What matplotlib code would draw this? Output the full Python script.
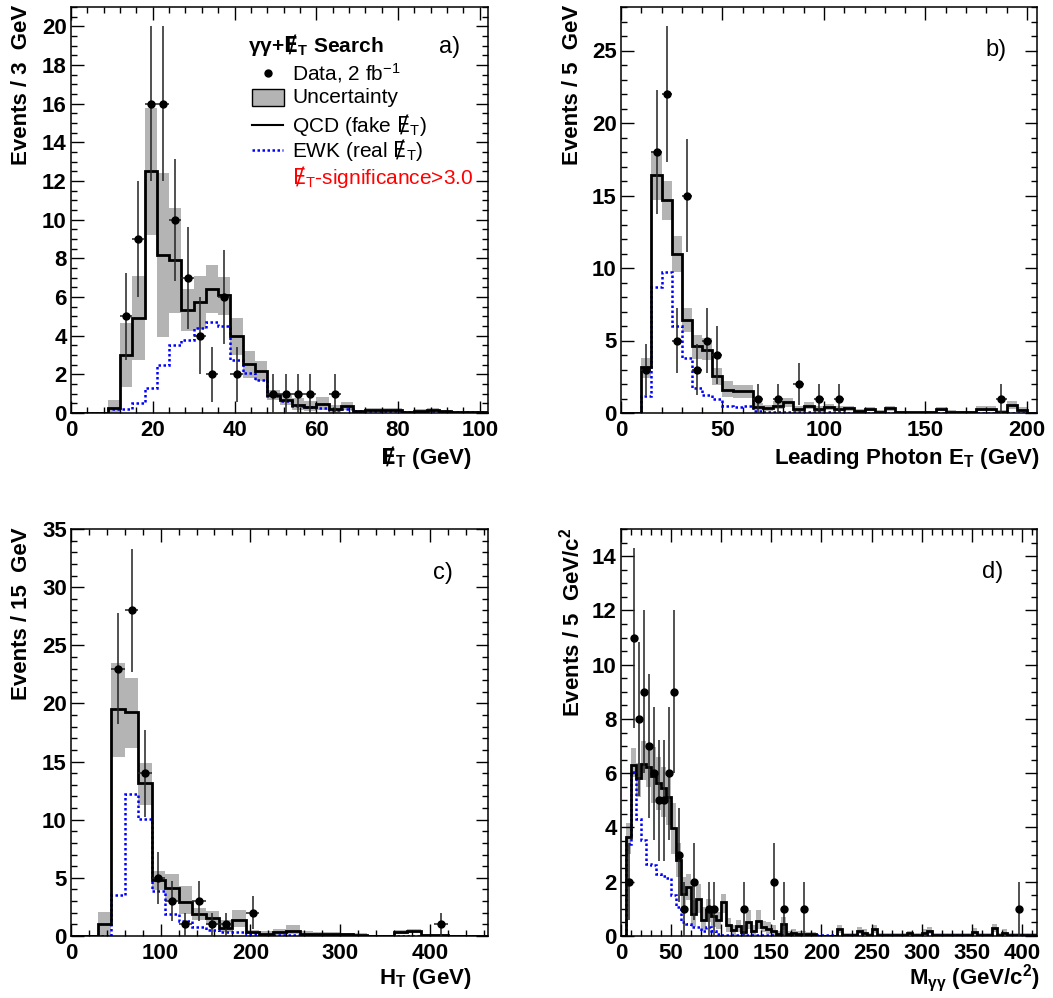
import numpy as np
import matplotlib
matplotlib.use("Agg")
import matplotlib.pyplot as plt
from matplotlib.patches import Rectangle
from matplotlib.ticker import MultipleLocator

plt.rcParams["font.family"] = ["Liberation Sans", "DejaVu Sans"]
plt.rcParams["mathtext.fontset"] = "custom"
plt.rcParams["mathtext.rm"] = "Liberation Sans"
plt.rcParams["mathtext.it"] = "Liberation Sans:italic"
plt.rcParams["mathtext.bf"] = "Liberation Sans:bold"
# DejaVu carries the slashed E glyph (U+0246)
plt.rcParams["mathtext.sf"] = "DejaVu Sans:bold"
plt.rcParams["mathtext.tt"] = "DejaVu Sans"
plt.rcParams["axes.linewidth"] = 1.1

# ── Data ──────────────────────────────────────────────────────────────────────

# a) missing ET, 3 GeV bins, 0-102
a_edges = np.arange(0, 103, 3)
a_qcd = [0, 0, 0, 0.25, 3.0, 4.9, 12.5, 8.15, 7.9, 5.35, 5.75, 6.42, 6.08, 3.97,
         2.52, 2.19, 0.92, 0.69, 0.43, 0.31, 0.48, 0.2, 0.38, 0.09, 0.14, 0.17,
         0.14, 0.05, 0.1, 0.14, 0.09, 0.05, 0.05, 0.05]
a_lo = [0, 0, 0, 0, 1.33, 2.73, 9.2, 3.92, 5.18, 4.23, 4.32, 5.15, 5.06, 3.02,
        1.81, 1.64, 0.66, 0.43, 0.17, 0.09, 0.17, 0.0, 0.14, 0.01, 0.04, 0.06,
        0.04, 0.0, 0.02, 0.04, 0.01, 0.0, 0.0, 0.0]
a_hi = [0, 0, 0, 0.65, 4.66, 7.08, 15.79, 12.4, 10.59, 6.42, 7.08, 7.67, 7.03, 4.89,
        3.23, 2.71, 1.21, 0.95, 0.78, 0.6, 0.81, 0.43, 0.59, 0.18, 0.25, 0.28,
        0.25, 0.12, 0.2, 0.25, 0.18, 0.12, 0.12, 0.12]
a_ewk = [0, 0, 0, 0.2, 0.2, 0.52, 1.3, 2.5, 3.54, 3.77, 4.4, 4.7, 4.49, 2.76,
         2.07, 1.73, 0.86, 0.62, 0.35, 0.31, 0.26, 0.17, 0.2, 0.08, 0.1, 0.12,
         0.1, 0.05, 0.06, 0.1, 0.06, 0.04, 0.03, 0.03]
a_data_x = [13.5, 16.5, 19.5, 22.5, 25.5, 28.5, 31.5, 34.5, 37.5, 40.5,
            49.5, 52.5, 55.5, 58.5, 64.5]
a_data_n = [5, 9, 16, 16, 10, 7, 4, 2, 6, 2, 1, 1, 1, 1, 1]

# b) leading photon ET, 5 GeV bins, 0-205
b_edges = np.arange(0, 206, 5)
b_qcd = [0, 0, 3.2, 16.38, 14.7, 10.96, 6.43, 4.6, 4.37, 2.53, 1.6, 1.54, 1.54,
         0.41, 0.34, 0.5, 0.74, 0.28, 0.5, 0.28, 0.41, 0.3, 0.32, 0.14, 0.28,
         0.1, 0.32, 0.08, 0.05, 0.05, 0.08, 0.28, 0.1, 0.06, 0.06, 0.3, 0.3,
         0.1, 0.57, 0.23, 0]
b_lo = [0, 0, 2.41, 14.7, 13.33, 9.7, 5.56, 3.72, 3.63, 1.95, 1.1, 1.03, 1.03,
        0.18, 0.14, 0.28, 0.41, 0.1, 0.28, 0.1, 0.18, 0.12, 0.14, 0.04, 0.12,
        0.02, 0.14, 0.02, 0, 0, 0.02, 0.12, 0.02, 0, 0, 0.12, 0.12,
        0.02, 0.28, 0.08, 0]
b_hi = [0, 0, 3.79, 18.04, 15.97, 12.18, 7.24, 5.4, 5.17, 3.1, 2.18, 1.95, 1.95,
        0.69, 0.57, 0.8, 1.03, 0.5, 0.74, 0.5, 0.64, 0.5, 0.5, 0.26, 0.44,
        0.2, 0.5, 0.16, 0.1, 0.1, 0.16, 0.44, 0.2, 0.12, 0.12, 0.48, 0.48,
        0.2, 0.8, 0.4, 0]
b_ewk = [0, 0, 1.19, 8.69, 9.7, 6.02, 3.79, 1.72, 1.26, 0.99, 0.5, 0.41, 0.46,
         0.14, 0.1, 0.08, 0.08, 0.06, 0.05, 0.05, 0.04, 0.04, 0.03, 0.03, 0.03,
         0.02, 0.02, 0.02, 0.02, 0.02, 0.02, 0.02, 0.02, 0.02, 0.02, 0.02, 0.02,
         0.02, 0.02, 0.02, 0]
b_data_x = [12.5, 17.5, 22.5, 27.5, 32.5, 37.5, 42.5, 47.5, 67.5, 77.5, 87.5,
            97.5, 107.5, 187.5]
b_data_n = [3, 18, 22, 5, 15, 3, 5, 4, 1, 1, 2, 1, 1, 1]

# c) HT, 15 GeV bins, 0-465
c_edges = np.arange(0, 466, 15)
c_qcd = [0, 0, 1.0, 19.52, 19.24, 13.12, 4.85, 4.13, 2.93, 1.92, 1.58, 0.72,
         1.41, 0.34, 0.2, 0.34, 0.43, 0.2, 0.14, 0.14, 0.14, 0.09, 0.03, 0.03,
         0.32, 0.43, 0.06, 0.06, 0.03, 0.03, 0.03]
c_lo = [0, 0, 0, 15.42, 16.19, 11.25, 3.93, 3.13, 1.92, 1.35, 0.92, 0.34,
        0.78, 0.14, 0.03, 0.06, 0.2, 0.03, 0.03, 0.03, 0, 0, 0, 0,
        0.14, 0.25, 0, 0, 0, 0, 0]
c_hi = [0, 0, 2.07, 23.51, 22.16, 14.84, 5.57, 5.37, 4.28, 2.41, 2.12, 1.35,
        2.21, 0.55, 0.4, 0.63, 0.92, 0.4, 0.35, 0.35, 0.3, 0.25, 0.1, 0.1,
        0.5, 0.6, 0.15, 0.15, 0.1, 0.1, 0.1]
c_ewk = [0, 0, 0, 3.5, 12.17, 10.02, 3.85, 1.92, 1.26, 0.78, 0.55, 0.34, 0.34,
         0.15, 0.1, 0.08, 0.05, 0.04, 0.03, 0.03, 0.03, 0.02, 0.02, 0.02, 0.02,
         0.02, 0.02, 0.02, 0.02, 0.02, 0.02]
c_data_x = [52.5, 67.5, 82.5, 97.5, 112.5, 127.5, 142.5, 157.5, 172.5, 202.5, 412.5]
c_data_n = [23, 28, 14, 5, 3, 1, 3, 1, 1, 2, 1]

# d) diphoton mass, 5 GeV bins, 0-415
d_edges = np.arange(0, 416, 5)
d_qcd = [0, 3.66, 6.3, 5.81, 6.34, 6.22, 5.91, 5.65, 5.44, 5.11, 3.97, 2.8, 1.56,
         1.81, 0.8, 1.38, 0.6, 0.95, 0.73, 0.58, 1.26, 0.39, 0.21, 0.36, 0.15,
         0.52, 0.18, 0.55, 0.33, 0.25, 0.18, 0.06, 0.46, 0.09, 0.11, 0.09, 0.09,
         0.06, 0.06, 0, 0, 0, 0, 0.27, 0.05, 0.05, 0.05, 0.2, 0.12, 0.03, 0.27,
         0.03, 0.03, 0.03, 0.03, 0.03, 0.03, 0.1, 0.03, 0.03, 0.12, 0.2, 0.03,
         0.03, 0.03, 0.03, 0.03, 0.03, 0.03, 0.03, 0.15, 0.03, 0.03, 0.03, 0.3,
         0.03, 0.12, 0.03, 0.03, 0.03, 0.03, 0.03, 0.03]
d_lo = [0, 3.04, 5.87, 5.14, 5.75, 5.5, 4.89, 4.64, 4.4, 4.09, 3.04, 2.18, 1.07,
        1.32, 0.33, 0.83, 0.21, 0.52, 0.35, 0.25, 0.83, 0.15, 0.03, 0.15, 0.03,
        0.27, 0.03, 0.27, 0.15, 0.08, 0.03, 0, 0.21, 0, 0, 0, 0,
        0, 0, 0, 0, 0, 0, 0.12, 0, 0, 0, 0.08, 0.03, 0, 0.12,
        0, 0, 0, 0, 0, 0, 0.02, 0, 0, 0.03, 0.08, 0,
        0, 0, 0, 0, 0, 0, 0, 0.05, 0, 0, 0, 0.15,
        0, 0.03, 0, 0, 0, 0, 0, 0]
d_hi = [0, 4.15, 6.92, 6.37, 7.17, 7.1, 6.98, 6.61, 6.24, 5.87, 4.89, 3.41, 2.18,
        2.3, 1.32, 1.93, 1.07, 1.38, 1.1, 0.9, 1.56, 0.65, 0.4, 0.6, 0.4,
        0.95, 0.4, 0.95, 0.55, 0.5, 0.4, 0.2, 0.7, 0.2, 0.25, 0.2, 0.2,
        0.15, 0.15, 0.05, 0.05, 0.05, 0.05, 0.42, 0.12, 0.12, 0.12, 0.35, 0.25,
        0.1, 0.42, 0.1, 0.1, 0.1, 0.1, 0.1, 0.1, 0.2, 0.1, 0.1, 0.25, 0.35, 0.1,
        0.1, 0.1, 0.1, 0.1, 0.1, 0.1, 0.1, 0.28, 0.1, 0.1, 0.1, 0.45,
        0.1, 0.25, 0.1, 0.1, 0.1, 0.1, 0.1, 0.1]
d_ewk = [0, 3.4, 6.06, 4.3, 3.53, 2.65, 2.6, 2.3, 2.2, 2.15, 1.5, 1.07, 0.52,
         0.46, 0.33, 0.33, 0.18, 0.33, 0.18, 0.09, 0.05, 0.04, 0.04, 0.03, 0.03,
         0.03, 0.03, 0.03, 0.03, 0.03, 0.05, 0.02, 0.02, 0.02, 0.02, 0.02, 0.02,
         0.02, 0.02, 0.02, 0.02, 0.02, 0.02, 0.02, 0.02, 0.02, 0.02, 0.02, 0.02,
         0.02, 0.02, 0.02, 0.02, 0.02, 0.02, 0.02, 0.02, 0.02, 0.02, 0.02, 0.02,
         0.02, 0.02, 0.02, 0.02, 0.02, 0.02, 0.02, 0.02, 0.02, 0.02, 0.02, 0.02,
         0.02, 0.02, 0.02, 0.02, 0.02, 0.02, 0.02, 0.02, 0.02, 0.02]
d_data_x = [7.5, 12.5, 17.5, 22.5, 27.5, 32.5, 37.5, 42.5, 47.5, 52.5, 57.5, 62.5,
            72.5, 87.5, 92.5, 122.5, 152.5, 162.5, 182.5, 397.5]
d_data_n = [2, 11, 8, 9, 7, 6, 5, 5, 6, 9, 3, 1, 2, 1, 1, 1, 2, 1, 1, 1]

# ── Style ─────────────────────────────────────────────────────────────────────

W, H = 1053, 998
BAND = "#b4b4b4"
MET_B = r"\mathsf{Ɇ}_{\mathbf{T}}"
MET_R = r"\mathtt{Ɇ}_{\mathrm{T}}"


def draw_panel(ax, edges, qcd, lo, hi, ewk, dx, dn, xlim, ylim, xmaj, xmin, ymaj, ymin, tag):
    ax.stairs(hi, edges, baseline=lo, fill=True, color=BAND, lw=0, zorder=1)
    ax.stairs(ewk, edges, color="#0000ff", lw=1.8, ls=(0, (1, 1)), zorder=2)
    ax.stairs(qcd, edges, color="k", lw=2.0, zorder=3)
    half = (edges[1] - edges[0]) / 2
    n = np.array(dn, dtype=float)
    ax.errorbar(dx, n, yerr=np.sqrt(n), xerr=half, fmt="o", color="k", ms=5,
                elinewidth=1.1, ecolor="#222222", capsize=0, zorder=4)
    ax.set_xlim(*xlim)
    ax.set_ylim(*ylim)
    ax.xaxis.set_major_locator(MultipleLocator(xmaj))
    ax.xaxis.set_minor_locator(MultipleLocator(xmin))
    ax.yaxis.set_major_locator(MultipleLocator(ymaj))
    ax.yaxis.set_minor_locator(MultipleLocator(ymin))
    ax.tick_params(which="both", direction="in", top=True, right=True, width=1.0)
    ax.tick_params(which="major", length=9)
    ax.tick_params(which="minor", length=4.5)
    ax.tick_params(axis="x", pad=5)
    ax.tick_params(axis="y", pad=3)
    for lab in ax.get_xticklabels() + ax.get_yticklabels():
        lab.set_fontweight("bold")
        lab.set_fontsize(16)
    ax.text(tag[1], tag[2], tag[0], transform=ax.transAxes, fontsize=17,
            ha="right", va="center")


fig = plt.figure(figsize=(W / 100, H / 100), dpi=100)

ax_a = fig.add_axes([71 / W, (H - 413) / H, 417 / W, 406 / H])
ax_b = fig.add_axes([621 / W, (H - 413) / H, 416 / W, 406 / H])
ax_c = fig.add_axes([71 / W, (H - 936) / H, 417 / W, 407 / H])
ax_d = fig.add_axes([621 / W, (H - 936) / H, 416 / W, 407 / H])

draw_panel(ax_a, a_edges, a_qcd, a_lo, a_hi, a_ewk, a_data_x, a_data_n,
           (0, 102), (0, 21), 20, 4, 2, 0.5, ("a)", 0.933, 0.901))
draw_panel(ax_b, b_edges, b_qcd, b_lo, b_hi, b_ewk, b_data_x, b_data_n,
           (0, 205), (0, 28), 50, 10, 5, 1, ("b)", 0.928, 0.894))
draw_panel(ax_c, c_edges, c_qcd, c_lo, c_hi, c_ewk, c_data_x, c_data_n,
           (0, 465), (0, 35), 100, 20, 5, 1, ("c)", 0.916, 0.892))
draw_panel(ax_d, d_edges, d_qcd, d_lo, d_hi, d_ewk, d_data_x, d_data_n,
           (0, 415), (0, 15), 50, 10, 2, 0.5, ("d)", 0.918, 0.894))

# ── Legend (panel a) ──────────────────────────────────────────────────────────
lx_txt = 0.530
ax_a.text(0.424, 0.906, r"γγ+$" + MET_B + r"$ Search", transform=ax_a.transAxes,
          fontsize=15, fontweight="bold", va="center")
ax_a.plot([0.472], [0.837], "o", color="k", ms=5, transform=ax_a.transAxes)
ax_a.text(lx_txt, 0.837, r"Data, 2 fb$^{\mathrm{-1}}$", transform=ax_a.transAxes,
          fontsize=15, va="center")
ax_a.add_patch(Rectangle((0.434, 0.755), 0.077, 0.042, transform=ax_a.transAxes,
                         fc=BAND, ec="k", lw=1.0))
ax_a.text(lx_txt, 0.776, "Uncertainty", transform=ax_a.transAxes, fontsize=15, va="center")
ax_a.plot([0.434, 0.508], [0.709, 0.709], color="k", lw=1.5, transform=ax_a.transAxes)
ax_a.text(lx_txt, 0.709, r"QCD (fake $" + MET_R + r"$)", transform=ax_a.transAxes,
          fontsize=15, va="center")
ax_a.plot([0.434, 0.508], [0.648, 0.648], color="#0000ff", lw=1.8, ls=(0, (1, 1)),
          transform=ax_a.transAxes)
ax_a.text(lx_txt, 0.648, r"EWK (real $" + MET_R + r"$)", transform=ax_a.transAxes,
          fontsize=15, va="center")
ax_a.text(lx_txt, 0.581, r"$" + MET_R + r"$-significance>3.0", transform=ax_a.transAxes,
          fontsize=15, va="center", color="#ff0000")

# ── Axis titles ───────────────────────────────────────────────────────────────
XT = dict(fontsize=16, fontweight="bold", ha="right", va="baseline")
fig.text(472 / W, 1 - 464 / H, r"$" + MET_B + r"$ (GeV)", **XT)
fig.text(1040 / W, 1 - 464 / H, r"Leading Photon E$_{\mathbf{T}}$ (GeV)", **XT)
fig.text(472 / W, 1 - 984 / H, r"H$_{\mathbf{T}}$ (GeV)", **XT)
fig.text(1040 / W, 1 - 984 / H, r"M$_{\mathbf{γγ}}$ (GeV/c$^{\mathbf{2}}$)", **XT)

YT = dict(fontsize=16, fontweight="bold", ha="center", va="top", rotation=90)
fig.text(22 / W, 1 - 5 / H, "Events / 3  GeV", **YT)
fig.text(572 / W, 1 - 5 / H, "Events / 5  GeV", **YT)
fig.text(22 / W, 1 - 527 / H, "Events / 15  GeV", **YT)
fig.text(572 / W, 1 - 527 / H, r"Events / 5  GeV/c$^{\mathbf{2}}$", **YT)

fig.savefig("out.png", dpi=100)
